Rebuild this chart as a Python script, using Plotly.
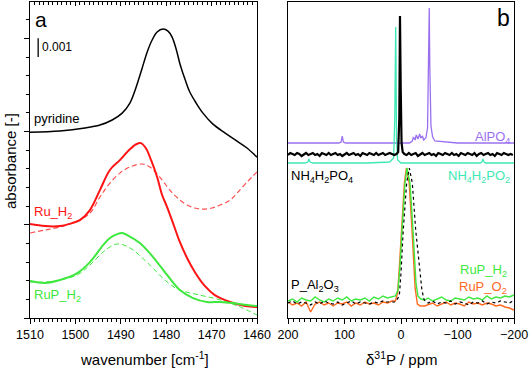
import plotly.graph_objects as go

# ---------------- Panel a : IR spectra (absorbance in units of 0.001) ----------------
pyr_wn = [1510.0, 1503.4, 1497.9, 1494.6, 1491.9, 1489.7, 1488.0, 1486.7, 1485.3, 1484.2, 1483.1,
          1482.0, 1480.7, 1479.6, 1478.7, 1477.8, 1476.9, 1475.8, 1474.8, 1473.4, 1471.9, 1469.7,
          1467.0, 1464.4, 1462.2, 1460.0]
pyr_abs = [9.97, 10.03, 10.19, 10.35, 10.62, 10.99, 11.53, 12.33, 13.40, 14.26, 14.91,
           15.34, 15.50, 15.39, 15.07, 14.42, 13.57, 12.76, 12.12, 11.53, 10.99, 10.40,
           9.92, 9.49, 9.12, 8.63]

ru_wn = [1510.0, 1506.7, 1503.4, 1500.7, 1499.0, 1496.8, 1494.6, 1492.4, 1490.2, 1488.0,
         1486.6, 1485.6, 1484.5, 1483.3, 1482.0, 1480.9, 1479.8, 1478.5, 1477.0, 1475.4, 1473.7, 1471.5,
         1469.3, 1465.9, 1462.6, 1460.0]
ru_abs = [5.04, 4.93, 4.93, 5.09, 5.25, 5.79, 6.86, 7.94, 8.47, 9.05,
          9.32, 9.38, 9.12, 8.45, 7.56, 6.60, 5.95, 5.09, 4.08, 3.22, 2.47, 1.72,
          1.23, 0.86, 0.64, 0.59]

ru_fit_wn = [1510.0, 1506.7, 1503.4, 1500.1, 1496.8, 1494.6, 1492.4, 1490.2, 1488.0, 1485.3, 1483.6,
             1481.4, 1479.2, 1477.0, 1475.4, 1473.7, 1471.9, 1469.9, 1468.1, 1465.9, 1464.4, 1462.2,
             1460.0]
ru_fit_abs = [4.56, 4.72, 4.88, 5.15, 5.63, 6.49, 7.24, 7.77, 8.10, 8.26, 8.10,
              7.56, 6.86, 6.33, 6.06, 5.90, 5.84, 5.90, 6.06, 6.33, 6.70, 7.29,
              7.83]

rup_wn = [1510.0, 1506.7, 1503.4, 1499.6, 1496.8, 1493.9, 1492.4, 1490.8, 1489.7, 1488.6, 1485.8,
          1482.9, 1479.8, 1477.0, 1474.1, 1471.0, 1468.1, 1465.3, 1462.2, 1460.0]
rup_abs = [1.98, 1.88, 2.04, 2.41, 3.00, 3.91, 4.29, 4.50, 4.56, 4.45, 4.02,
           3.27, 2.31, 1.50, 1.07, 0.86, 0.86, 0.80, 0.70, 0.64]

rup_fit_wn = [1510.0, 1506.7, 1503.4, 1499.6, 1496.8, 1493.9, 1492.4, 1490.8, 1489.3, 1487.3, 1483.6,
              1479.8, 1477.0, 1472.6, 1468.1, 1463.7, 1460.0]
rup_fit_abs = [1.93, 1.93, 2.04, 2.31, 2.84, 3.54, 3.81, 3.97, 3.91, 3.65, 2.84,
               1.93, 1.50, 1.23, 0.97, 0.59, 0.16]

scale_bar_wn = [1508.2, 1508.2]
scale_bar_abs = [14.0, 15.0]

# ---------------- Panel b : 31P NMR (arbitrary intensity) ----------------
alpo4_ppm = [200, 150, 110, 106, 104, 102, 98, 60, 20, -15, -20, -22, -25, -27, -30, -33, -35, -38,
             -40, -44, -47, -49, -50, -51, -53, -56, -60, -100, -150, -200]
alpo4_int = [175, 175, 175, 176, 182, 176, 175, 175, 175, 175, 177, 181, 178, 183, 179, 184, 180, 182,
             178, 180, 190, 250, 310, 250, 192, 181, 177, 175, 175, 175]

nh4po2_ppm = [200, 170, 165, 163, 161, 156, 120, 60, 20, 13, 11, 10, 9.4, 8.8, 8, 6, 0, -40, -100,
              -140, -143, -145, -147, -150, -200]
nh4po2_int = [155, 155, 156, 159, 156, 155, 155, 155, 156, 160, 200, 260, 291, 250, 180, 158, 155, 155, 155,
              155, 156, 159, 156, 155, 155]

grid_left = [200, 192, 184, 176, 168, 160, 152, 144, 136, 128, 120, 112, 104, 96, 88, 80, 72, 64,
             56, 48, 40, 32, 24, 16]
grid_right = [-48, -56, -64, -72, -80, -88, -96, -104, -112, -120, -128, -136, -144, -152, -160,
              -168, -176, -184, -192, -200]
nh4_grid_left = [200, 196, 192, 188, 184, 180, 176, 172, 168, 164, 160, 156, 152, 148, 144, 140,
                 136, 132, 128, 124, 120, 116, 112, 108, 104, 100, 96, 92, 88, 84, 80, 76, 72, 68,
                 64, 60, 56, 52, 48, 44, 40, 36, 32, 28, 24, 20, 16, 12]
nh4_grid_right = [-6, -10, -14, -18, -22, -26, -30, -34, -38, -42, -46, -50, -54, -58, -62, -66,
                  -70, -74, -78, -82, -86, -90, -94, -98, -102, -106, -110, -114, -118, -122, -126,
                  -130, -134, -138, -142, -146, -150, -154, -158, -162, -166, -170, -174, -178,
                  -182, -186, -190, -194, -198]

nh4po4_peak_ppm = [8, 5, 3, 1.8, 0.5, -1, -3]
nh4po4_peak_int = [164, 166, 200, 302, 230, 175, 166]
nh4po4_left = [163, 165, 164, 163, 165, 164, 162, 164, 165, 163, 164, 165, 163, 164, 162, 165,
               164, 163, 165, 163, 164, 165, 163, 164, 162, 164, 165, 163, 164, 165, 163, 164,
               162, 165, 164, 163, 165, 164, 163, 165, 163, 164, 165, 163, 164, 165, 164, 163]
nh4po4_right = [164, 163, 165, 163, 164, 165, 162, 164, 165, 163, 164, 165, 163, 164, 162, 165,
                164, 163, 165, 164, 163, 165, 163, 164, 162, 165, 164, 163, 165, 164, 163, 165,
                162, 164, 165, 163, 164, 165, 163, 164, 162, 165, 164, 163, 165, 164, 163, 164, 163]

h2_peak_ppm = [10, 5.3, 2, -1.8, -7.1, -10.6, -15.9, -21.2, -26.5, -30, -35, -42]
h2_peak_int = [22, 28, 50, 88, 135, 150, 135, 88, 35, 22, 19, 18]
h2_left = [17, 19, 16, 20, 18, 17, 21, 18, 16, 19, 17, 20, 18, 21, 17, 19, 18, 20, 17, 21, 19, 22, 20, 21]
h2_right = [20, 17, 19, 21, 18, 17, 20, 19, 18, 21, 19, 20, 18, 22, 19, 21, 20, 22, 21, 23]

o2_peak_ppm = [10, 6, 3, -0.8, -6, -9.5, -14.5, -19.5, -25, -29, -34, -42]
o2_peak_int = [17, 25, 50, 88, 135, 150, 135, 88, 30, 14, 12, 12]
o2_left = [16, 13, 15, 12, 16, 6, 14, 16, 13, 15, 12, 15, 14, 16, 12, 15, 13, 16, 14, 15, 13, 16, 15, 17]
o2_right = [13, 15, 12, 14, 16, 13, 15, 14, 12, 16, 14, 15, 13, 15, 14, 12, 13, 11, 10, 8]

pal_peak_ppm = [10, 3, 0, -4, -10, -14.7, -20, -26, -33, -37, -41, -46]
pal_peak_int = [16, 22, 45, 88, 135, 150, 135, 88, 48, 28, 18, 16]
pal_left = [15, 17, 14, 16, 15, 13, 16, 14, 17, 15, 14, 16, 13, 15, 17, 14, 16, 15, 14, 16, 15, 17, 16, 16]
pal_right = [15, 17, 14, 16, 15, 17, 14, 16, 15, 13, 16, 15, 17, 14, 16, 15, 17, 16, 15, 18]

FONT = "Liberation Sans"
RED = "#ff1414"
RED_D = "#ff5050"
GREEN = "#3ee83e"
PURPLE = "#9a70f0"
TEAL = "#3ee8b4"
ORANGE = "#ff6a1e"

fig = go.Figure()

# panel a
fig.add_trace(go.Scatter(x=pyr_wn, y=pyr_abs, mode="lines", line=dict(color="black", width=1.5, shape="spline"),
                         xaxis="x", yaxis="y"))
fig.add_trace(go.Scatter(x=ru_fit_wn, y=ru_fit_abs, mode="lines",
                         line=dict(color=RED_D, width=1.2, dash="5px,3px", shape="spline"), xaxis="x", yaxis="y"))
fig.add_trace(go.Scatter(x=ru_wn, y=ru_abs, mode="lines", line=dict(color=RED, width=2, shape="spline"),
                         xaxis="x", yaxis="y"))
fig.add_trace(go.Scatter(x=rup_fit_wn, y=rup_fit_abs, mode="lines",
                         line=dict(color=GREEN, width=1, dash="5px,3px", shape="spline"), xaxis="x", yaxis="y"))
fig.add_trace(go.Scatter(x=rup_wn, y=rup_abs, mode="lines", line=dict(color=GREEN, width=2, shape="spline"),
                         xaxis="x", yaxis="y"))
fig.add_trace(go.Scatter(x=scale_bar_wn, y=scale_bar_abs, mode="lines", line=dict(color="black", width=1.3),
                         xaxis="x3", yaxis="y"))

# panel b
fig.add_trace(go.Scatter(x=alpo4_ppm, y=alpo4_int, mode="lines", line=dict(color=PURPLE, width=1.3),
                         xaxis="x2", yaxis="y2"))
fig.add_trace(go.Scatter(x=nh4po2_ppm, y=nh4po2_int, mode="lines", line=dict(color=TEAL, width=1.3),
                         xaxis="x2", yaxis="y2"))
fig.add_trace(go.Scatter(x=nh4_grid_left + nh4po4_peak_ppm + nh4_grid_right,
                         y=nh4po4_left + nh4po4_peak_int + nh4po4_right,
                         mode="lines", line=dict(color="black", width=2.2), xaxis="x2", yaxis="y2"))
fig.add_trace(go.Scatter(x=grid_left + o2_peak_ppm + grid_right, y=o2_left + o2_peak_int + o2_right,
                         mode="lines", line=dict(color=ORANGE, width=1.4), xaxis="x2", yaxis="y2"))
fig.add_trace(go.Scatter(x=grid_left + h2_peak_ppm + grid_right, y=h2_left + h2_peak_int + h2_right,
                         mode="lines", line=dict(color=GREEN, width=1.4), xaxis="x2", yaxis="y2"))
fig.add_trace(go.Scatter(x=grid_left + pal_peak_ppm + grid_right, y=pal_left + pal_peak_int + pal_right,
                         mode="lines", line=dict(color="black", width=1.2, dash="dot"), xaxis="x2", yaxis="y2"))

W, H = 529, 371
xa = [30 / W, 257 / W]
xb = [288 / W, 514 / W]
yd = [(H - 318) / H, (H - 2) / H]

tickfont = dict(family=FONT, size=12.5, color="black")
common_x = dict(showline=True, linecolor="black", linewidth=1.2, mirror=True, ticks="outside",
                ticklen=5, tickwidth=1, tickcolor="black", showgrid=False, zeroline=False,
                tickfont=tickfont, automargin=False)

fig.update_layout(
    template="none",
    width=W, height=H, margin=dict(l=0, r=0, t=0, b=0, pad=0), autosize=False,
    paper_bgcolor="white", plot_bgcolor="white", showlegend=False,
    font=dict(family=FONT, color="black"),
    xaxis=dict(domain=xa, anchor="y", range=[1510, 1460], dtick=10, tick0=1460,
               minor=dict(dtick=1, ticks="outside", ticklen=2.5, tickcolor="black", tickwidth=1, showgrid=False),
               **common_x),
    xaxis3=dict(domain=xa, overlaying="x", anchor="y", side="top", range=[1510, 1460], dtick=10, tick0=1460,
                ticks="inside", ticklen=4, tickcolor="black", showticklabels=False, showgrid=False,
                zeroline=False, showline=False, automargin=False,
                minor=dict(dtick=1, ticks="inside", ticklen=2.5, tickcolor="black", showgrid=False)),
    yaxis=dict(domain=yd, anchor="x", range=[0, 16.95], dtick=5, tick0=0, showticklabels=False,
               showline=True, linecolor="black", linewidth=1.2, mirror=True, ticks="outside",
               ticklen=5, tickcolor="black", showgrid=False, zeroline=False, automargin=False,
               minor=dict(dtick=1, ticks="outside", ticklen=3, tickcolor="black", showgrid=False)),
    xaxis2=dict(domain=xb, anchor="y2", range=[200, -200], dtick=100, tick0=0,
                minor=dict(dtick=10, ticks="outside", ticklen=2.5, tickcolor="black", tickwidth=1, showgrid=False),
                **common_x),
    yaxis2=dict(domain=yd, anchor="x2", range=[0, 316], showticklabels=False, ticks="",
                showline=True, linecolor="black", linewidth=1.2, mirror=True, showgrid=False,
                zeroline=False, automargin=False),
)


def note(text, px, py, color="black", size=13, xanchor="left", textangle=0):
    fig.add_annotation(text=text, x=px / W, y=(H - py) / H, xref="paper", yref="paper",
                       xanchor=xanchor, yanchor="middle", showarrow=False, textangle=textangle,
                       font=dict(family=FONT, size=size, color=color))


note("a", 33, 19, size=21)
note("0.001", 40, 47, size=12)
note("pyridine", 32, 118)
note("Ru_H<sub>2</sub>", 32, 212, color=RED)
note("RuP_H<sub>2</sub>", 32, 295, color=GREEN)
note("b", 512, 18, size=23, xanchor="right")
note("AlPO<sub>4</sub>", 512, 137, color=PURPLE, xanchor="right")
note("NH<sub>4</sub>H<sub>2</sub>PO<sub>4</sub>", 289, 176)
note("NH<sub>4</sub>H<sub>2</sub>PO<sub>2</sub>", 512, 176, color=TEAL, xanchor="right")
note("P_Al<sub>2</sub>O<sub>3</sub>", 289, 285)
note("RuP_H<sub>2</sub>", 509, 270, color=GREEN, xanchor="right")
note("RuP_O<sub>2</sub>", 509, 287, color=ORANGE, xanchor="right")
note("wavenumber [cm<sup>-1</sup>]", 144, 358, size=15, xanchor="center")
note("δ<sup>31</sup>P / ppm", 401, 358, size=15, xanchor="center")
note("absorbance [-]", 10, 161, size=15, xanchor="center", textangle=-90)

fig.write_html("out.html", config={"displayModeBar": False},
               post_script="document.body.style.margin='0';document.body.style.padding='0';")
